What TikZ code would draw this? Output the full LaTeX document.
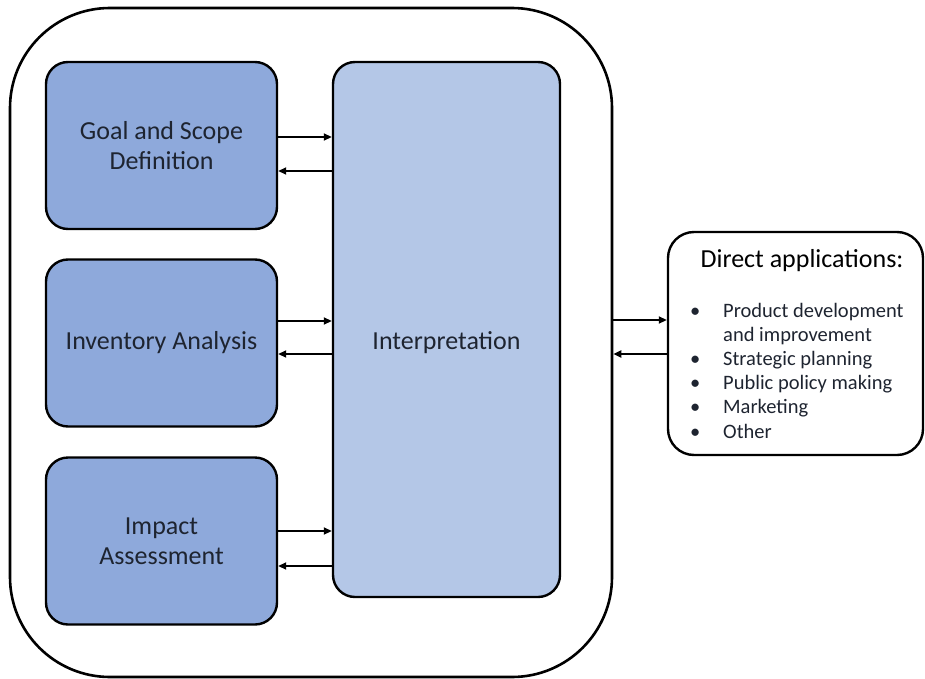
\documentclass[tikz,border=0pt]{standalone}
\usepackage{fontspec}
\setmainfont{Carlito}
\usetikzlibrary{arrows.meta}
\definecolor{boxA}{HTML}{8EA9DB}
\definecolor{boxB}{HTML}{B4C7E7}
\definecolor{txt}{HTML}{1E2430}
\begin{document}
\begin{tikzpicture}[x=1pt,y=-1pt,
  stage/.style={draw=black,line width=2.4pt,rounded corners=22pt,fill=boxA,minimum width=231pt,minimum height=167pt,align=center,text=txt,font=\fontsize{26}{30}\selectfont,inner sep=0pt},
  conn/.style={line width=1.8pt,-{Triangle[length=8pt,width=7pt]}}]
\useasboundingbox (0,0) rectangle (925,679);
\node[draw=black,line width=2.6pt,rounded corners=100pt,minimum width=602pt,minimum height=669pt] (outer) at (311,342.5) {};
\node[stage] (goal) at (161.5,145.5) {Goal and Scope\\Definition};
\node[stage] (inv) at (161.5,343) {Inventory Analysis};
\node[stage] (imp) at (161.5,541) {Impact\\Assessment};
\node[stage,fill=boxB,minimum width=227pt,minimum height=535pt] (interp) at (446.5,329.5) {};
\node[text=txt,font=\fontsize{26}{30}\selectfont,inner sep=0pt] (interplabel) at (446.5,343) {Interpretation};
\node[draw=black,line width=2.4pt,rounded corners=26pt,minimum width=255pt,minimum height=223pt] (direct) at (795.5,343.5) {};
\node[font=\fontsize{26}{30}\selectfont,text=black,anchor=center] (title) at (802,261) {Direct applications:};
\node[font=\fontsize{20.5}{24.2}\selectfont,text=txt,anchor=base west,align=left,inner sep=0pt] (list) at (690,317) {%
\begin{tabular}[t]{@{}p{33pt}@{}l@{}}
\textbullet & Product development\\
 & and improvement\\
\textbullet & Strategic planning\\
\textbullet & Public policy making\\
\textbullet & Marketing\\
\textbullet & Other
\end{tabular}};
\draw[conn] (goal.east |- 0,137) -- (interp.west |- 0,137);
\draw[conn] (interp.west |- 0,171) -- (goal.east |- 0,171);
\draw[conn] (inv.east |- 0,321) -- (interp.west |- 0,321);
\draw[conn] (interp.west |- 0,354) -- (inv.east |- 0,354);
\draw[conn] (imp.east |- 0,531) -- (interp.west |- 0,531);
\draw[conn] (interp.west |- 0,566) -- (imp.east |- 0,566);
\draw[conn] (outer.east |- 0,320) -- (direct.west |- 0,320);
\draw[conn] (direct.west |- 0,354) -- (outer.east |- 0,354);
\end{tikzpicture}
\end{document}
